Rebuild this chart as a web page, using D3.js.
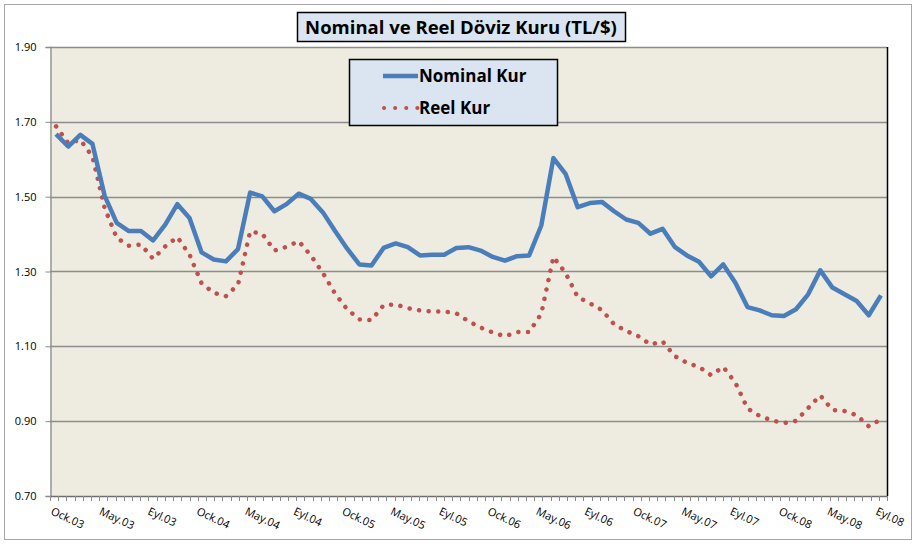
<!DOCTYPE html>
<html>
<head>
<meta charset="utf-8">
<script src="https://cdn.jsdelivr.net/npm/d3@7"></script>
<style>
  body { margin: 0; background: #fff; }
  svg text { font-family: "Open Sans", "Noto Sans", sans-serif; }
</style>
</head>
<body>
<div class="chart"></div>
<script>
// month abbreviations used on the category axis
var monthNames = ["Ock", "Şub", "Mar", "Nis", "May", "Haz", "Tem", "Ağu", "Eyl", "Ekm", "Kas", "Ara"];
var years = ["03", "04", "05", "06", "07", "08"];
var lastMonth = 8; // Eyl.08

var categories = [];
years.forEach(function (y, yi) {
  monthNames.forEach(function (m, mi) {
    if (yi < years.length - 1 || mi <= lastMonth) categories.push(m + "." + y);
  });
});

var tickLabels = ["Ock.03", "May.03", "Eyl.03", "Ock.04", "May.04", "Eyl.04", "Ock.05", "May.05", "Eyl.05",
  "Ock.06", "May.06", "Eyl.06", "Ock.07", "May.07", "Eyl.07", "Ock.08", "May.08", "Eyl.08"];
// the tick labels are printed every fourth month
var labelIndex = tickLabels.map(function (d, i) { return i * 4; });

var nominal = [1.667, 1.634, 1.665, 1.641, 1.503, 1.430, 1.408, 1.408, 1.383, 1.425,
  1.480, 1.443, 1.351, 1.332, 1.327, 1.360, 1.511, 1.501, 1.461, 1.480,
  1.508, 1.494, 1.458, 1.408, 1.361, 1.319, 1.316, 1.363, 1.375, 1.365,
  1.343, 1.345, 1.345, 1.363, 1.365, 1.356, 1.339, 1.329, 1.341, 1.343,
  1.423, 1.603, 1.561, 1.472, 1.483, 1.486, 1.461, 1.439, 1.430, 1.401,
  1.414, 1.366, 1.343, 1.326, 1.287, 1.319, 1.270, 1.205, 1.196, 1.183,
  1.181, 1.199, 1.239, 1.303, 1.257, 1.239, 1.221, 1.183, 1.236];

var reel = [1.688, 1.643, 1.652, 1.607, 1.470, 1.390, 1.369, 1.372, 1.334, 1.367,
  1.392, 1.345, 1.268, 1.243, 1.234, 1.265, 1.407, 1.401, 1.356, 1.366,
  1.381, 1.343, 1.296, 1.241, 1.199, 1.172, 1.170, 1.210, 1.212, 1.202,
  1.196, 1.193, 1.193, 1.188, 1.167, 1.150, 1.137, 1.127, 1.138, 1.138,
  1.187, 1.339, 1.296, 1.232, 1.215, 1.197, 1.159, 1.141, 1.127, 1.105,
  1.113, 1.074, 1.056, 1.045, 1.023, 1.045, 1.003, 0.934, 0.914, 0.902,
  0.895, 0.901, 0.935, 0.969, 0.930, 0.927, 0.916, 0.886, 0.905];

var yTicks = [0.70, 0.90, 1.10, 1.30, 1.50, 1.70, 1.90];

var seriesNames = ["Nominal Kur", "Reel Kur"];
var seriesColors = ["#4a7ebb", "#c0504d"];

var width = 916, height = 544;
var plot = {left: 50, right: 887, top: 47, bottom: 496};

var svg = d3.select('.chart')
  .append('svg')
  .attr('width', width)
  .attr('height', height);

// outer chart border
svg.append('rect')
  .attr('x', 4.5).attr('y', 4.5)
  .attr('width', 907).attr('height', 535)
  .attr('fill', '#fff')
  .attr('stroke', '#a6a6a6')
  .attr('stroke-width', 1);

var xScale = d3.scaleBand()
  .domain(categories)
  .range([plot.left, plot.right])
  .paddingInner(0).paddingOuter(0);

var yScale = d3.scaleLinear()
  .domain([0.7, 1.9])
  .range([plot.bottom, plot.top]);

// plot background
svg.append('rect')
  .attr('x', plot.left).attr('y', plot.top)
  .attr('width', plot.right - plot.left)
  .attr('height', plot.bottom - plot.top)
  .attr('fill', '#eeece1');

// GRIDLINES
svg.append('g')
  .selectAll('line')
  .data(yTicks.slice(1))
  .enter()
  .append('line')
  .attr('x1', plot.left).attr('x2', plot.right)
  .attr('y1', function (d) { return Math.round(yScale(d)) + 0.5; })
  .attr('y2', function (d) { return Math.round(yScale(d)) + 0.5; })
  .attr('stroke', '#8c8c8c')
  .attr('stroke-width', 1.3);

// right border of plot
svg.append('line')
  .attr('x1', plot.right + 0.5).attr('x2', plot.right + 0.5)
  .attr('y1', plot.top).attr('y2', plot.bottom)
  .attr('stroke', '#000').attr('stroke-width', 1.5);

// Y-AXIS
var yAxis = d3.axisLeft(yScale)
  .tickValues(yTicks)
  .tickFormat(d3.format('.2f'))
  .tickSize(5)
  .tickPadding(9);

var yG = svg.append('g')
  .attr('id', 'y-axis')
  .attr('transform', 'translate(' + (plot.left + 0.5) + ',0)')
  .call(yAxis);
yG.select('.domain').attr('stroke', '#8c8c8c').attr('stroke-width', 1.3);
yG.selectAll('.tick line').attr('stroke', '#8c8c8c');
yG.selectAll('.tick text')
  .attr('font-size', 11)
  .attr('fill', '#000')
  .style('font-family', '"Open Sans", sans-serif');

// X-AXIS (minor ticks as drawn by the original)
var xAxisG = svg.append('g').attr('id', 'x-axis');
xAxisG.append('line')
  .attr('x1', plot.left).attr('x2', plot.right)
  .attr('y1', plot.bottom + 0.5).attr('y2', plot.bottom + 0.5)
  .attr('stroke', '#6e6e6e').attr('stroke-width', 1.3);

var tickScale = d3.scaleLinear().domain([0, 102]).range([plot.left, plot.right]);
xAxisG.selectAll('line.tk')
  .data(d3.range(0, 103))
  .enter()
  .append('line')
  .attr('class', 'tk')
  .attr('x1', function (d) { return Math.round(tickScale(d)) + 0.5; })
  .attr('x2', function (d) { return Math.round(tickScale(d)) + 0.5; })
  .attr('y1', plot.bottom).attr('y2', plot.bottom + 5)
  .attr('stroke', '#8c8c8c');

xAxisG.selectAll('text')
  .data(tickLabels)
  .enter()
  .append('text')
  .attr('transform', function (d, i) {
    var cx = xScale(categories[labelIndex[i]]) + xScale.bandwidth() / 2;
    return 'translate(' + (cx - 6) + ',' + (plot.bottom + 18) + ') rotate(25)';
  })
  .attr('font-size', 11)
  .attr('fill', '#000')
  .text(function (d) { return d; });

// LINES
var line = function (values) {
  return d3.line()
    .x(function (d, i) { return xScale(categories[i]) + xScale.bandwidth() / 2; })
    .y(function (d) { return yScale(d); })(values);
};

svg.append('path')
  .attr('d', line(reel))
  .attr('fill', 'none')
  .attr('stroke', seriesColors[1])
  .attr('stroke-width', 4.5)
  .attr('stroke-linecap', 'round')
  .attr('stroke-dasharray', '0.1 9.5');

svg.append('path')
  .attr('d', line(nominal))
  .attr('fill', 'none')
  .attr('stroke', seriesColors[0])
  .attr('stroke-width', 4.5)
  .attr('stroke-linejoin', 'round');

// TITLE
svg.append('rect')
  .attr('x', 297.5).attr('y', 12.5)
  .attr('width', 328).attr('height', 29)
  .attr('fill', '#dbe5f1')
  .attr('stroke', '#000').attr('stroke-width', 1.5);

svg.append('text')
  .attr('x', 461).attr('y', 34)
  .attr('text-anchor', 'middle')
  .attr('font-size', 18.5)
  .attr('font-weight', 'bold')
  .attr('fill', '#000')
  .text('Nominal ve Reel Döviz Kuru (TL/$)');

// LEGEND
var legend = svg.append('g');
legend.append('rect')
  .attr('x', 349.5).attr('y', 59.5)
  .attr('width', 208).attr('height', 66)
  .attr('fill', '#dbe5f1')
  .attr('stroke', '#000').attr('stroke-width', 1.5);

var legendRows = [76, 108];
legend.append('line')
  .attr('x1', 383).attr('x2', 418)
  .attr('y1', legendRows[0]).attr('y2', legendRows[0])
  .attr('stroke', seriesColors[0]).attr('stroke-width', 4.5);
legend.append('line')
  .attr('x1', 384).attr('x2', 418)
  .attr('y1', legendRows[1]).attr('y2', legendRows[1])
  .attr('stroke', seriesColors[1]).attr('stroke-width', 4)
  .attr('stroke-linecap', 'round')
  .attr('stroke-dasharray', '0.1 11');

legend.selectAll('text')
  .data(seriesNames)
  .enter()
  .append('text')
  .attr('x', 419)
  .attr('y', function (d, i) { return legendRows[i] + 6; })
  .attr('font-size', 17)
  .attr('font-weight', 'bold')
  .attr('fill', '#000')
  .text(function (d) { return d; });
</script>
</body>
</html>
